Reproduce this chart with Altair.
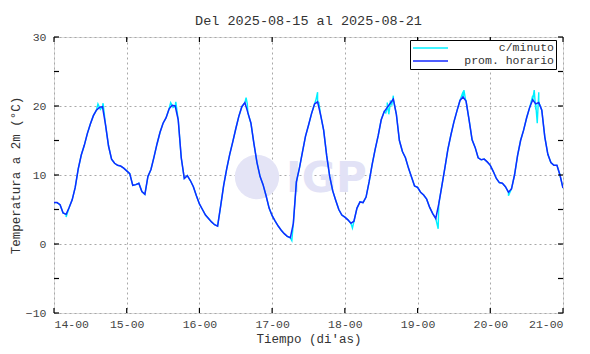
import altair as alt
import pandas as pd

# ---------------- data ----------------
titulo = "Del 2025-08-15 al 2025-08-21"
series = ["c/minuto", "prom. horario"]
colores = ["#00f0ff", "#1428ff"]

dia_inicio = 14
# hourly means (prom. horario), 14-00 .. 21-00 (169 values)
prom_horario = [
    6.0, 6.0, 5.7, 4.5, 4.3, 5.3, 6.4, 8.2, 10.9, 12.9, 14.3, 16.0, 17.4, 18.6, 19.4, 19.8,
    19.9, 17.3, 14.2, 12.3, 11.7, 11.4, 11.3, 11.0,
    10.6, 10.2, 8.5, 8.6, 8.8, 7.6, 7.2, 9.8, 10.8, 12.6, 14.5, 16.2, 17.5, 18.3, 19.6, 20.1,
    20.0, 18.0, 12.5, 9.5, 9.9, 9.2, 8.3, 7.0,
    5.8, 5.0, 4.2, 3.7, 3.2, 2.8, 2.6, 5.5, 8.5, 10.9, 13.0, 14.8, 16.7, 18.5, 19.9, 20.5,
    19.0, 17.5, 14.5, 11.8, 9.8, 8.6, 7.0, 5.2,
    4.1, 3.3, 2.6, 2.0, 1.5, 1.1, 0.9, 3.0, 9.0, 11.0, 13.3, 15.6, 17.2, 18.9, 20.3, 20.6,
    18.7, 16.5, 12.8, 9.8, 7.7, 6.3, 5.0, 4.2,
    3.9, 3.5, 3.0, 3.3, 5.2, 6.1, 6.0, 6.8, 9.0, 11.5, 13.7, 15.7, 18.0, 19.2, 19.8, 20.4,
    21.0, 18.8, 15.0, 13.4, 12.5, 11.0, 9.7, 8.4,
    8.2, 7.5, 7.1, 6.5, 5.3, 4.4, 3.7, 5.8, 8.4, 11.0, 13.7, 15.8, 17.7, 19.3, 20.8, 21.3,
    20.7, 18.0, 15.1, 14.0, 12.5, 12.2, 12.3, 11.9,
    11.4, 10.5, 9.5, 8.9, 8.8, 8.3, 7.5, 8.0, 10.0, 12.8, 15.0, 16.5, 18.3, 19.8, 20.9, 20.3,
    20.5, 19.4, 15.5, 13.0, 11.8, 11.4, 11.4, 10.0,
    8.1,
]

# extra per-minute excursions visible around the hourly line (hour offset, value)
minuto_horas = [4.0, 14.5, 15.3, 16.2, 38.5, 39.3, 40.2, 62.5, 63.4, 63.8, 78.5,
                86.5, 87.0, 87.4, 98.5, 109.5, 110.0, 110.5, 111.0, 111.5, 112.0,
                126.8, 134.8, 135.3, 135.8, 150.0, 158.0, 158.5, 159.0, 159.5, 160.0, 160.5]
minuto_valores = [3.9, 20.3, 19.5, 20.4, 20.5, 19.8, 20.6, 20.2, 21.2, 20.3, 0.5,
                  21.0, 22.0, 20.5, 2.3, 19.0, 20.5, 18.8, 20.8, 20.2, 21.5,
                  2.2, 21.8, 22.3, 21.0, 7.0, 21.5, 22.3, 19.5, 17.5, 22.0, 20.0]

x_ticks = [14, 15, 16, 17, 18, 19, 20, 21]
y_ticks = [-10, -5, 0, 5, 10, 15, 20, 25, 30]

# ---------------- tables ----------------
W, H = 509, 276
FONT = "Liberation Mono"

df_h = pd.DataFrame({
    "x": [dia_inicio + i / 24 for i in range(len(prom_horario))],
    "y": prom_horario,
    "serie": series[1],
})
df_m = pd.DataFrame({
    "x": [dia_inicio + i / 24 for i in range(len(prom_horario))]
         + [dia_inicio + h / 24 for h in minuto_horas],
    "y": prom_horario + minuto_valores,
    "serie": series[0],
}).sort_values("x")

xs = alt.Scale(domain=[x_ticks[0], x_ticks[-1]], nice=False, zero=False)
ys = alt.Scale(domain=[y_ticks[0], y_ticks[-1]], nice=False, zero=False)
cs = alt.Scale(domain=series, range=colores)

x_axis = alt.Axis(values=x_ticks, labelExpr="format(datum.value,'d') + '-00'",
                  title="Tiempo (di'as)", grid=True, gridDash=[2, 3], gridColor="#a8a8a8",
                  ticks=False, domain=False, labelFont=FONT, labelFontSize=11.5,
                  labelColor="#444", labelPadding=5, titleFont=FONT, titleFontSize=12.5,
                  titleColor="#333", titleFontWeight="normal", titlePadding=3)
y_axis = alt.Axis(values=y_ticks, title="Temperatura a 2m (°C)", grid=True, gridDash=[2, 3],
                  gridColor="#a8a8a8", ticks=False, domain=False, labelFont=FONT,
                  labelFontSize=11.5, labelColor="#444", labelPadding=8, titleFont=FONT,
                  titleFontSize=12.5, titleColor="#333", titleFontWeight="normal", titlePadding=3)

legend = alt.Legend(title=None, orient="none", legendX=356, legendY=3, direction="vertical",
                    fillColor="white", strokeColor="black", padding=2,
                    symbolType="M-1,0H6", symbolSize=100, symbolStrokeWidth=1.5,
                    labelFont=FONT, labelFontSize=11.5, labelColor="#333", labelAlign="right",
                    labelOffset=130, rowPadding=1, cornerRadius=0)

base_one = alt.Chart(pd.DataFrame({"a": [0]}))
logo_circle = base_one.mark_circle(color="#e4e4f6", opacity=1, size=1963).encode(
    x=alt.value(203), y=alt.value(140))
logo_text = base_one.mark_text(text="IGP", font="DejaVu Sans", fontWeight="bold",
                               fontSize=42, color="#e2e2f6", align="left",
                               baseline="alphabetic").encode(x=alt.value(232), y=alt.value(155))

line_m = alt.Chart(df_m).mark_line(strokeWidth=1.4, clip=True).encode(
    x=alt.X("x:Q", scale=xs, axis=x_axis),
    y=alt.Y("y:Q", scale=ys, axis=y_axis),
    color=alt.Color("serie:N", scale=cs, legend=legend),
)
line_h = alt.Chart(df_h).mark_line(strokeWidth=1.5, clip=True).encode(
    x=alt.X("x:Q", scale=xs), y=alt.Y("y:Q", scale=ys),
    color=alt.Color("serie:N", scale=cs, legend=legend),
)

df_xt = pd.DataFrame({"x": x_ticks})
df_yt = pd.DataFrame({"y": y_ticks})
tk = dict(color="black", strokeWidth=1.2)
t_top = alt.Chart(df_xt).mark_rule(**tk).encode(x=alt.X("x:Q", scale=xs), y=alt.value(0), y2=alt.value(5))
t_bot = alt.Chart(df_xt).mark_rule(**tk).encode(x=alt.X("x:Q", scale=xs), y=alt.value(H), y2=alt.value(H - 5))
t_lft = alt.Chart(df_yt).mark_rule(**tk).encode(y=alt.Y("y:Q", scale=ys), x=alt.value(0), x2=alt.value(5))
t_rgt = alt.Chart(df_yt).mark_rule(**tk).encode(y=alt.Y("y:Q", scale=ys), x=alt.value(W - 5), x2=alt.value(W))

chart = alt.layer(logo_circle, logo_text, line_m, line_h, t_top, t_bot, t_lft, t_rgt).properties(
    width=W, height=H,
    title=alt.TitleParams(titulo, font=FONT, fontSize=13.5, fontWeight="normal", color="#333",
                          anchor="middle", baseline="alphabetic", offset=11, dy=18),
    autosize=alt.AutoSizeParams(type="none"),
    padding={"left": 46, "top": 29, "right": 10, "bottom": 33},
).configure_view(stroke="black", strokeWidth=2).configure(background="white")

chart.save("out.html", embed_options={"renderer": "svg", "actions": False})
